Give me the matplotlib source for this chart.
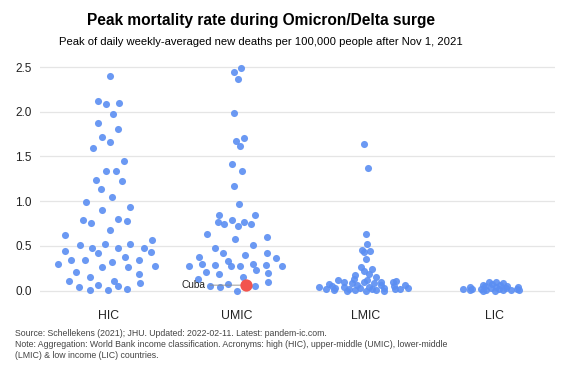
import numpy as np
import matplotlib.pyplot as plt

plt.rcParams["font.family"] = ["Liberation Sans", "DejaVu Sans"]

# Income groups (World Bank)
groups = ["HIC", "UMIC", "LMIC", "LIC"]

# Peak daily weekly-averaged new deaths per 100,000 after Nov 1, 2021
hic = [2.40, 2.12, 2.09, 2.10, 1.98, 1.87, 1.81, 1.72, 1.66, 1.59, 1.45, 1.34,
       1.34, 1.24, 1.22, 1.14, 1.05, 0.99, 0.93, 0.90, 0.79, 0.76, 0.80, 0.78,
       0.68, 0.62, 0.51, 0.48, 0.52, 0.52, 0.57, 0.48, 0.47, 0.44, 0.42, 0.43,
       0.37, 0.34, 0.34, 0.34, 0.30, 0.32, 0.26, 0.26, 0.27, 0.21, 0.19, 0.15,
       0.11, 0.11, 0.08, 0.04, 0.06, 0.05, 0.01, 0.01, 0.02]
umic = [2.49, 2.44, 2.37, 1.99, 1.71, 1.67, 1.62, 1.41, 1.34, 1.17, 0.97, 0.85,
        0.84, 0.79, 0.77, 0.74, 0.77, 0.74, 0.72, 0.63, 0.60, 0.58, 0.51, 0.48,
        0.37, 0.42, 0.40, 0.42, 0.36, 0.27, 0.30, 0.28, 0.33, 0.27, 0.27, 0.30,
        0.29, 0.27, 0.21, 0.23, 0.20, 0.18, 0.15, 0.13, 0.10, 0.05, 0.07, 0.04,
        0.05, 0.00, 0.06]
lmic = [1.64, 1.37, 0.63, 0.52, 0.44, 0.43, 0.45, 0.35, 0.24, 0.26, 0.22, 0.18,
        0.15, 0.17, 0.11, 0.12, 0.12, 0.10, 0.08, 0.09, 0.08, 0.10, 0.02, 0.02,
        0.00, 0.01, 0.03, 0.02, 0.02, 0.00, 0.03, 0.01, 0.04, 0.00, 0.02, 0.01,
        0.03, 0.05, 0.06, 0.05, 0.07, 0.06, 0.04, 0.13, 0.09, 0.06, 0.04, 0.03]
lic = [0.04, 0.01, 0.02, 0.08, 0.10, 0.10, 0.04, 0.02, 0.06, 0.05, 0.01, 0.04,
       0.02, 0.01, 0.02, 0.03, 0.00, 0.01, 0.00, 0.01, 0.07, 0.03, 0.05, 0.02,
       0.06]

# Highlighted country (last entry of the UMIC list)
highlight_group = "UMIC"
highlight_index = 50
highlight_label = "Cuba"

values = [hic, umic, lmic, lic]

blue = "#5b8ef2"
red = "#f2544e"


def vdc(n, base=2):
    # van der Corput sequence
    out = []
    for k in range(1, n + 1):
        q, denom, x = k, 1.0, 0.0
        while q:
            denom *= base
            q, r = divmod(q, base)
            x += r / denom
        out.append(x)
    return np.array(out)


def quasirandom(y, width):
    # offsets like ggbeeswarm::geom_quasirandom
    y = np.asarray(y, float)
    n = len(y)
    sd = y.std(ddof=1)
    iqr = np.subtract(*np.percentile(y, [75, 25]))
    bw = 0.9 * min(sd, iqr / 1.34) * n ** -0.2
    dens = np.exp(-0.5 * ((y[:, None] - y[None, :]) / bw) ** 2).sum(axis=1)
    dens = dens / dens.max()
    order = np.argsort(y, kind="stable")
    off = np.empty(n)
    off[order] = (vdc(n) - 0.5) * 2
    return off * dens * width


nmax = max(len(v) for v in values)

fig = plt.figure(figsize=(5.8, 3.73), dpi=100)
ax = fig.add_axes([0.069, 0.202, 0.888, 0.647])

for i, vals in enumerate(values):
    w = 0.42 * np.sqrt(len(vals) / nmax)
    xs = i + quasirandom(vals, w)
    ys = np.asarray(vals)
    mask = np.ones(len(vals), bool)
    if groups[i] == highlight_group:
        mask[highlight_index] = False
        hx, hy = xs[highlight_index], ys[highlight_index]
    ax.scatter(xs[mask], ys[mask], s=26, color=blue, alpha=0.9, linewidths=0, zorder=3)

ax.scatter([hx], [hy], s=78, color=red, linewidths=0, zorder=4)
ax.annotate(highlight_label, xy=(hx, hy), xytext=(-29, 0), textcoords="offset points",
            ha="right", va="center", fontsize=7.3, color="#222222",
            arrowprops=dict(arrowstyle="-", color="#888888", lw=0.6,
                            shrinkA=1, shrinkB=4))

ax.set_xlim(-0.53, 3.47)
ax.set_ylim(-0.08, 2.62)
ax.set_xticks(range(len(groups)))
ax.set_xticklabels(groups)
ax.set_yticks([0, 0.5, 1.0, 1.5, 2.0, 2.5])
ax.set_yticklabels(["0.0", "0.5", "1.0", "1.5", "2.0", "2.5"])
ax.grid(axis="y", color="#e5e5e5", linewidth=0.9, zorder=0)
ax.tick_params(axis="x", length=0, labelsize=8.8, pad=9, colors="#222222")
ax.tick_params(axis="y", length=0, labelsize=8.5, pad=6, colors="#222222")
for s in ax.spines.values():
    s.set_visible(False)

fig.text(0.45, 0.945, "Peak mortality rate during Omicron/Delta surge",
         ha="center", va="center", fontsize=11.2, fontweight="bold")
fig.text(0.45, 0.887, "Peak of daily weekly-averaged new deaths per 100,000 people after Nov 1, 2021",
         ha="center", va="center", fontsize=8.15)
fig.text(0.026, 0.118,
         "Source: Schellekens (2021); JHU. Updated: 2022-02-11. Latest: pandem-ic.com.\n"
         "Note: Aggregation: World Bank income classification. Acronyms: high (HIC), upper-middle (UMIC), lower-middle\n"
         "(LMIC) & low income (LIC) countries.",
         ha="left", va="top", fontsize=6.3, color="#444444", linespacing=1.3)

fig.savefig("out.png", dpi=100)
